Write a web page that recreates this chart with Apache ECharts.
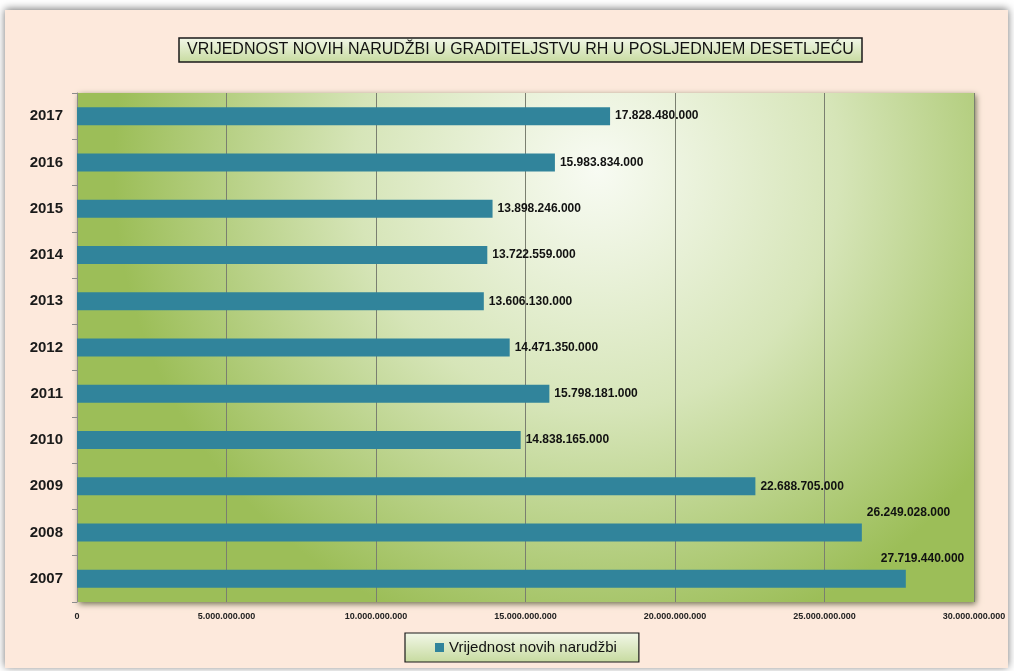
<!DOCTYPE html>
<html>
<head>
<meta charset="utf-8">
<style>
  html, body { margin: 0; padding: 0; background: #ffffff; }
  #main { width: 1014px; height: 671px; }
</style>
</head>
<body>
<div id="main"></div>
<script src="https://cdn.jsdelivr.net/npm/echarts@6/dist/echarts.min.js"></script>
<script>
  var chartDom = document.getElementById('main');
  var myChart = echarts.init(chartDom);
  var option;

  const years = ['2007', '2008', '2009', '2010', '2011', '2012', '2013', '2014', '2015', '2016', '2017'];
  const values = [27719440000, 26249028000, 22688705000, 14838165000, 15798181000, 14471350000,
    13606130000, 13722559000, 13898246000, 15983834000, 17828480000];
  const seriesName = 'Vrijednost novih narudžbi';
  const titleText = 'VRIJEDNOST NOVIH NARUDŽBI U GRADITELJSTVU RH U POSLJEDNJEM DESETLJEĆU';

  const narrow = "'Liberation Sans Narrow', 'Arial Narrow', 'Liberation Sans', sans-serif";

  // 1.234.567 style
  const fmt = (v) => String(Math.round(v)).replace(/\B(?=(\d{3})+(?!\d))/g, '.');

  // the two longest bars carry their label above the bar end
  const raised = { '2008': [0, -20], '2007': [-30, -20] };

  const barData = values.map((v, i) => {
    const d = { value: v };
    if (raised[years[i]]) {
      d.label = { offset: raised[years[i]] };
    }
    return d;
  });

  const boxFill = () => new echarts.graphic.LinearGradient(0, 0, 0, 1, [
    { offset: 0, color: '#f3f8ea' },
    { offset: 1, color: '#c6da9e' },
  ]);

  option = {
    animation: false,
    graphic: [
      {
        type: 'rect',
        z: -10,
        shape: { x: 5, y: 10, width: 1003, height: 658 },
        style: {
          fill: '#fde9dc',
          shadowBlur: 8,
          shadowColor: 'rgba(0,0,0,0.55)',
          shadowOffsetY: -1,
        },
      },
    ],
    title: {
      text: titleText,
      left: 179,
      top: 38,
      padding: [4, 8, 4, 8],
      borderColor: '#1a1a1a',
      borderWidth: 1.5,
      backgroundColor: boxFill(),
      textStyle: {
        fontFamily: narrow,
        fontSize: 16,
        fontWeight: 'normal',
        color: '#111',
      },
    },
    legend: {
      bottom: 9,
      left: 405,
      itemWidth: 9,
      itemHeight: 9,
      itemGap: 4,
      icon: 'rect',
      padding: [7, 22, 7, 30],
      borderColor: '#1a1a1a',
      borderWidth: 1.2,
      backgroundColor: boxFill(),
      textStyle: {
        fontFamily: narrow,
        fontSize: 15,
        color: '#111',
      },
      data: [seriesName],
    },
    grid: {
      left: 77,
      right: 40,
      top: 93,
      bottom: 69,
      show: true,
      borderWidth: 0,
      backgroundColor: new echarts.graphic.RadialGradient(0.58, 0.15, 0.95, [
        { offset: 0, color: '#f8fbf3' },
        { offset: 0.5, color: '#d6e5b8' },
        { offset: 1, color: '#9cbe58' },
      ]),
      shadowBlur: 6,
      shadowColor: 'rgba(50,60,20,0.7)',
      shadowOffsetX: 2,
      shadowOffsetY: 2,
    },
    xAxis: {
      type: 'value',
      min: 0,
      max: 30000000000,
      interval: 5000000000,
      axisLine: { show: false },
      axisTick: { show: false },
      splitLine: { lineStyle: { color: '#7a7f70', width: 1 } },
      axisLabel: {
        formatter: fmt,
        fontFamily: narrow,
        fontSize: 9,
        fontWeight: 'bold',
        color: '#222',
        margin: 10,
      },
    },
    yAxis: {
      type: 'category',
      data: years,
      axisLine: { show: true, lineStyle: { color: '#8c8c8c' } },
      axisTick: { show: true, length: 5, lineStyle: { color: '#8c8c8c' } },
      axisLabel: {
        fontFamily: narrow,
        fontSize: 15,
        fontWeight: 'bold',
        color: '#1a1a1a',
        margin: 14,
      },
    },
    series: [
      {
        name: seriesName,
        type: 'bar',
        data: barData,
        barWidth: 18,
        itemStyle: { color: '#31849b' },
        label: {
          show: true,
          position: 'right',
          distance: 5,
          formatter: (p) => fmt(p.value),
          fontFamily: narrow,
          fontSize: 12,
          fontWeight: 'bold',
          color: '#111',
        },
      },
    ],
  };

  option && myChart.setOption(option);

  window.onresize = function () {
    myChart.resize();
  };
</script>
</body>
</html>
